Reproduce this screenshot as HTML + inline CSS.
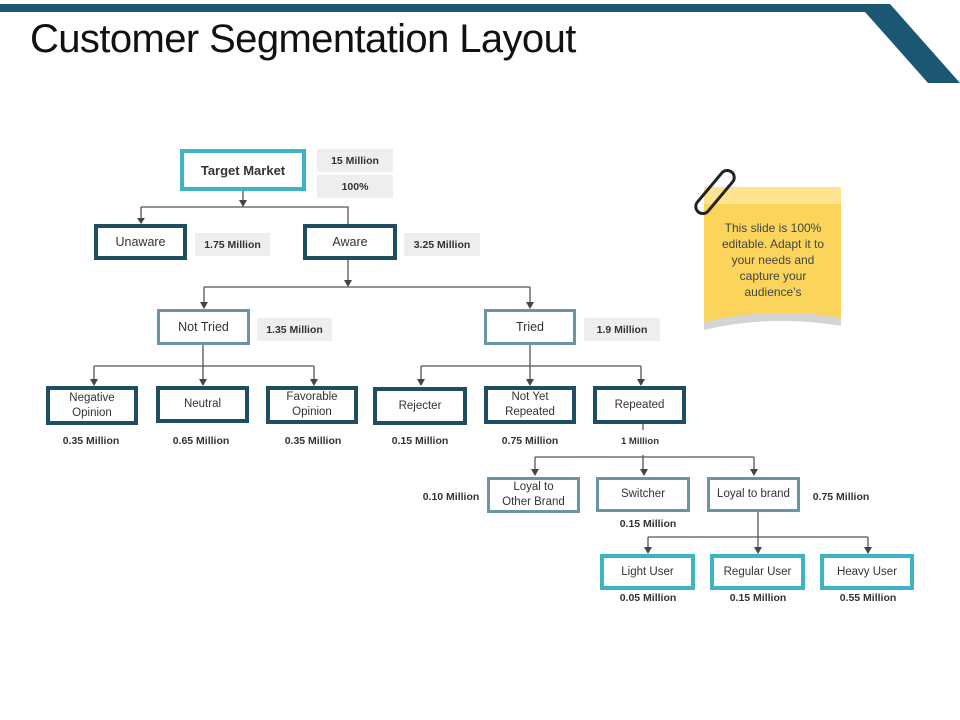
<!DOCTYPE html>
<html><head><meta charset="utf-8"><style>
body{margin:0;width:960px;height:720px;background:#fff;position:relative;overflow:hidden;font-family:"Liberation Sans",sans-serif}
.b{position:absolute;box-sizing:border-box;background:#fff;display:flex;align-items:center;justify-content:center;text-align:center;font-size:11.5px;color:#333;line-height:15px}
.d{border:4px solid #1f4e63}
.c{border:4px solid #3fb3c6}
.g{border:3px solid #6b94a6}
.v{position:absolute;box-sizing:border-box;background:#eeeeee;font-size:10.5px;font-weight:bold;color:#333;display:flex;align-items:center;justify-content:center}
.l{position:absolute;font-size:10.5px;font-weight:bold;color:#333;transform:translateX(-50%);white-space:nowrap}
</style></head><body>
<svg width="960" height="720" style="position:absolute;left:0;top:0">
<polygon points="0,4 890,4 960,83 928,83 865,12 0,12" fill="#1b5673"/>
<g stroke="#555" stroke-width="1.3" fill="none">
<path d="M243 191V202 M141 207H348V224 M141 207V218"/>
<path d="M348 260V281 M204 287H530 M204 287V303 M530 287V303"/>
<path d="M203 345V380 M94 366H314 M94 366V380 M314 366V380"/>
<path d="M530 345V380 M421 366H641 M421 366V380 M641 366V380"/>
<path d="M643 424V430 M643 455V470 M535 457H754 M535 457V470 M754 457V470"/>
<path d="M758 512V547 M648 537H868 M648 537V547 M868 537V547"/>
</g>
<g fill="#444">
<path d="M239 200h8l-4 7z"/><path d="M137 218h8l-4 6z"/>
<path d="M344 280h8l-4 7z"/><path d="M200 302h8l-4 7z"/><path d="M526 302h8l-4 7z"/>
<path d="M90 379h8l-4 7z"/><path d="M199 379h8l-4 7z"/><path d="M310 379h8l-4 7z"/>
<path d="M417 379h8l-4 7z"/><path d="M526 379h8l-4 7z"/><path d="M637 379h8l-4 7z"/>
<path d="M531 469h8l-4 7z"/><path d="M640 469h8l-4 7z"/><path d="M750 469h8l-4 7z"/>
<path d="M644 547h8l-4 7z"/><path d="M754 547h8l-4 7z"/><path d="M864 547h8l-4 7z"/>
</g>
<path d="M704 187H841V322Q773 312 704 328Z" fill="#fbd55b"/>
<rect x="704" y="187" width="137" height="17" fill="#fde290"/>
<path d="M704 322Q773 306 841 318V326Q773 314 704 330Z" fill="#d4d4d4"/>
<rect x="708" y="166" width="14" height="52" rx="7" transform="rotate(40 715 192)" fill="none" stroke="#222" stroke-width="3"/>
</svg>
<div style="position:absolute;left:30px;top:17px;font-family:'Liberation Sans',sans-serif;font-size:40px;color:#111;letter-spacing:-0.6px">Customer Segmentation Layout</div>
<div style="position:absolute;left:714px;top:220px;width:118px;text-align:center;font-size:12px;line-height:16px;color:#444">This slide is 100% editable. Adapt it to your needs and capture your audience's</div>
<div class="b c" style="left:180px;top:149px;width:126px;height:42px;font-weight:bold;font-size:13px">Target Market</div>
<div class="v" style="left:317px;top:149px;width:76px;height:23px">15 Million</div>
<div class="v" style="left:317px;top:175px;width:76px;height:23px">100%</div>
<div class="b d" style="left:94px;top:224px;width:93px;height:36px;font-size:12.5px">Unaware</div>
<div class="v" style="left:195px;top:233px;width:75px;height:23px">1.75 Million</div>
<div class="b d" style="left:303px;top:224px;width:94px;height:36px;font-size:12.5px">Aware</div>
<div class="v" style="left:404px;top:233px;width:76px;height:23px">3.25 Million</div>
<div class="b g" style="left:157px;top:309px;width:93px;height:36px;font-size:12.5px">Not Tried</div>
<div class="v" style="left:257px;top:318px;width:75px;height:23px">1.35 Million</div>
<div class="b g" style="left:484px;top:309px;width:92px;height:36px;font-size:12.5px">Tried</div>
<div class="v" style="left:584px;top:318px;width:76px;height:23px">1.9 Million</div>
<div class="b d" style="left:46px;top:386px;width:92px;height:39px">Negative<br>Opinion</div>
<div class="b d" style="left:156px;top:386px;width:93px;height:37px">Neutral</div>
<div class="b d" style="left:266px;top:386px;width:92px;height:38px">Favorable<br>Opinion</div>
<div class="b d" style="left:373px;top:387px;width:94px;height:38px">Rejecter</div>
<div class="b d" style="left:484px;top:386px;width:92px;height:38px">Not Yet<br>Repeated</div>
<div class="b d" style="left:593px;top:386px;width:93px;height:38px">Repeated</div>
<div class="l" style="left:91px;top:435px">0.35 Million</div>
<div class="l" style="left:201px;top:435px">0.65 Million</div>
<div class="l" style="left:313px;top:435px">0.35 Million</div>
<div class="l" style="left:420px;top:435px">0.15 Million</div>
<div class="l" style="left:530px;top:435px">0.75 Million</div>
<div class="l" style="left:640px;top:436px;font-size:9.5px">1 Million</div>
<div class="b g" style="left:487px;top:477px;width:93px;height:36px">Loyal to<br>Other Brand</div>
<div class="b g" style="left:596px;top:477px;width:94px;height:35px">Switcher</div>
<div class="b g" style="left:707px;top:477px;width:93px;height:35px">Loyal to brand</div>
<div class="l" style="left:451px;top:491px">0.10 Million</div>
<div class="l" style="left:648px;top:518px">0.15 Million</div>
<div class="l" style="left:841px;top:491px">0.75 Million</div>
<div class="b c" style="left:600px;top:554px;width:95px;height:36px">Light User</div>
<div class="b c" style="left:710px;top:554px;width:95px;height:36px">Regular User</div>
<div class="b c" style="left:820px;top:554px;width:94px;height:36px">Heavy User</div>
<div class="l" style="left:648px;top:592px">0.05 Million</div>
<div class="l" style="left:758px;top:592px">0.15 Million</div>
<div class="l" style="left:868px;top:592px">0.55 Million</div>
</body></html>
